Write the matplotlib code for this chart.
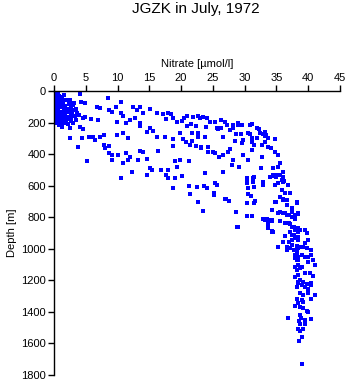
import matplotlib
matplotlib.use("Agg")
import matplotlib.pyplot as plt

plt.rcParams['font.family'] = ['Liberation Sans', 'DejaVu Sans']

# surface layer, 0-250 m
surface_no3 = [0.1, 0.3, 0.6, 0.2, 0.5, 0.8, 0.1, 0.4, 0.7, 0.2, 0.5, 0.9, 0.1, 0.3, 0.6, 1.0,
               0.2, 0.4, 0.8, 0.1, 0.5, 0.3, 0.7, 0.2, 0.6, 0.9, 0.1, 0.4, 0.2, 0.5, 0.1, 0.3,
               0.6, 0.2, 0.4, 0.8, 1.2, 1.6, 1.5, 2.0, 2.5, 1.3, 1.8, 2.3, 2.8, 3.2, 1.5, 2.0,
               2.6, 3.0, 3.5, 1.2, 1.8, 2.4, 2.9, 3.6, 1.5, 2.1, 2.7, 3.3, 1.3, 1.9, 2.6, 3.4,
               1.5, 2.2, 3.0, 4.1, 4.2, 4.9, 4.0, 4.5, 4.1, 4.6, 2.5, 3.8, 2.5, 5.2, 4.4,
               0.0, 0.3, 0.1, 0.4, 0.0, 0.2, 0.5, 0.1, 0.3, 0.0, 0.4, 0.2, 0.6, 0.0, 0.3, 0.1,
               0.5, 0.2, 0.0, 0.4, 0.7, 0.1, 0.3, 1.1, 1.0, 0.9, 1.4, 1.7, 2.2, 2.6, 3.0, 1.1,
               1.6, 2.0, 0.9, 1.2]
surface_depth = [5, 10, 8, 20, 25, 30, 35, 40, 45, 50, 55, 60, 65, 70, 75, 80,
                 85, 90, 95, 100, 105, 110, 115, 120, 125, 130, 135, 140, 150, 155, 165, 175,
                 185, 195, 205, 215, 40, 25, 60, 55, 57, 90, 95, 85, 80, 75, 110, 115,
                 105, 120, 115, 130, 140, 135, 145, 140, 160, 165, 170, 160, 180, 185, 190, 185,
                 205, 210, 200, 21, 68, 77, 150, 170, 226, 240, 237, 353, 300, 444, 296,
                 2, 3, 15, 15, 28, 32, 38, 52, 58, 62, 68, 78, 88, 92, 98, 112,
                 118, 128, 140, 148, 158, 170, 190, 100, 140, 160, 70, 120, 125, 150, 90, 170,
                 195, 180, 200, 225]

# shallow branch
upper_no3 = [8.5, 10.6, 6.7, 7.2, 8.7, 9.7, 9.2, 10.6, 10.9, 12.5, 13.5, 13.0, 15.1, 14.0, 16.2,
             17.2, 18.0, 12.7, 13.5, 13.5, 11.9, 11.4, 9.9, 7.0, 5.8, 4.8, 15.1, 15.6, 14.6,
             18.4, 17.7, 18.8, 19.3, 20.2, 20.5, 21.0, 21.8, 22.7, 23.0, 23.5, 24.0, 24.5,
             25.4, 26.3, 26.9, 27.2, 28.2, 28.9, 28.9, 29.6, 30.8, 31.1, 31.9, 32.2, 33.2,
             20.9, 21.6, 22.3, 23.9, 25.6, 25.8, 26.3, 27.7, 28.2, 28.7, 29.5, 30.6, 30.8,
             31.2, 31.9, 32.4, 32.9, 33.2, 33.7, 33.4, 34.8]
upper_depth = [46, 72, 99, 105, 120, 99, 130, 141, 160, 99, 99, 120, 114, 140, 141,
               148, 141, 173, 205, 220, 184, 205, 194, 184, 179, 165, 232, 253, 258,
               146, 177, 170, 199, 192, 169, 158, 165, 158, 172, 165, 172, 194,
               194, 184, 194, 215, 215, 200, 215, 218, 215, 208, 237, 240, 258,
               222, 212, 220, 226, 237, 243, 233, 247, 237, 275, 275, 268, 275,
               296, 296, 268, 275, 285, 296, 280, 304]

# middle branch
middle_no3 = [9.9, 10.8, 11.7, 7.8, 7.2, 6.2, 5.5, 6.5, 7.8, 8.1, 8.6, 8.7, 9.2, 10.0, 11.3,
              12.0, 11.7, 10.9, 9.1, 13.5, 14.0, 14.6, 13.2, 16.4, 17.5, 16.2, 18.8, 18.8,
              19.8, 20.3, 20.8, 21.7, 22.7, 22.6, 21.7, 23.8, 26.6, 28.5, 29.6, 29.8, 31.1,
              31.4, 32.7, 33.2, 33.7, 34.2, 34.8, 35.3, 35.6, 35.3, 34.5, 34.5, 35.0, 36.1,
              35.8, 36.1, 36.1, 21.4, 22.4, 23.1, 23.2, 24.3, 27.7, 27.4, 26.6, 25.3, 25.0,
              24.3, 25.9, 28.2, 28.0, 29.1, 29.8, 30.6, 31.1, 32.7, 32.6, 19.0, 19.8, 21.3,
              19.3, 18.0, 15.1, 15.4, 16.8, 17.7, 14.6, 12.2, 10.5, 20.2, 19.0, 18.0, 23.8,
              26.6, 30.3, 31.3, 31.3, 25.3, 30.3, 32.9]
middle_depth = [279, 265, 300, 279, 294, 290, 290, 312, 342, 360, 350, 395, 405, 408, 395,
                416, 437, 458, 437, 380, 384, 431, 437, 380, 290, 290, 304, 346,
                268, 304, 325, 268, 268, 290, 317, 290, 290, 317, 327, 310, 321,
                342, 340, 321, 353, 363, 385, 405, 458, 479, 490, 532, 543, 511,
                564, 543, 574, 342, 346, 353, 363, 357, 368, 384, 405, 395, 384,
                384, 416, 437, 469, 479, 405, 437, 374, 416, 490, 444, 437, 441,
                479, 500, 490, 503, 500, 532, 532, 511, 553, 537, 553, 553, 522,
                515, 553, 553, 574, 581, 585, 574]

# deeper branch
lower_no3 = [18.8, 21.2, 21.4, 22.5, 23.6, 24.1, 25.3, 25.6, 25.2, 25.1, 22.7, 23.5, 27.1,
             27.6, 28.7, 28.8, 30.3, 30.3, 31.2, 31.6, 31.5, 30.6, 31.0, 30.5, 31.5, 32.9,
             32.9, 33.4, 34.3, 33.6, 34.3, 35.2, 26.9, 27.5, 30.3, 31.4]
lower_depth = [617, 602, 655, 608, 602, 617, 581, 596, 648, 660, 705, 760, 686,
               697, 764, 864, 708, 792, 792, 695, 712, 653, 667, 617, 610, 596,
               813, 813, 822, 835, 892, 991, 686, 700, 560, 547]

# deep water column
deep_no3 = [34.0, 34.5, 35.0, 35.6, 34.8, 35.3, 36.2, 36.8, 35.8, 36.3, 37.1, 35.6, 35.0,
            36.1, 36.6, 37.4, 38.2, 35.3, 36.1, 36.6, 37.4, 37.9, 38.4, 36.3, 36.9, 37.4,
            37.1, 37.9, 38.4, 37.7, 38.2, 37.4, 38.4, 37.1, 37.9, 38.2, 38.7, 35.3, 36.6,
            37.9, 38.4, 38.2, 37.9, 38.4, 38.7, 33.2, 34.2, 33.7, 28.7, 28.9, 34.5, 35.2,
            34.8, 35.6, 36.1, 36.6, 38.2, 34.3, 35.6, 36.3, 36.9, 37.4, 38.4, 33.5, 34.3,
            35.6, 36.3, 37.1, 37.9, 33.7, 34.3, 36.6, 37.7, 38.2, 38.4, 38.7, 39.5, 39.8,
            37.4, 37.9, 38.4, 36.3, 36.1, 36.9, 40.0, 39.5, 35.3, 36.6, 37.4, 38.2, 38.4,
            39.2, 39.8, 40.5, 36.6, 37.7, 38.2, 39.0, 39.5, 40.0, 40.5, 37.9, 38.4, 38.4,
            40.0, 40.8, 41.1, 39.0, 38.2, 38.4, 39.5, 40.3, 40.8, 37.9, 38.7, 39.2, 38.4,
            39.8, 40.5, 38.4, 39.0, 38.2, 39.5, 40.5, 40.0, 38.7, 39.2, 41.1, 40.0, 38.3,
            39.0, 39.2, 40.5, 38.4, 37.9, 38.7, 39.2, 39.8, 40.0, 36.8, 38.7, 38.9, 38.5,
            39.5, 40.5, 38.7, 39.5, 38.4, 39.2, 38.7, 39.0, 38.6, 39.0]
deep_depth = [547, 539, 532, 532, 596, 585, 568, 596, 627, 648, 645, 670, 701,
              691, 723, 743, 708, 775, 771, 786, 797, 786, 775, 835, 835, 860,
              892, 881, 870, 913, 923, 944, 944, 997, 1008, 1018, 991, 991, 987,
              1039, 1050, 1071, 1113, 1103, 1124, 818, 818, 860, 764, 864, 892, 991,
              701, 670, 685, 691, 705, 754, 765, 775, 786, 765, 782, 811, 818,
              824, 839, 845, 811, 866, 887, 839, 860, 870, 892, 881, 881, 902,
              913, 934, 923, 917, 955, 959, 944, 965, 991, 987, 976, 980, 997,
              987, 997, 1008, 1008, 1008, 1039, 1039, 1050, 1050, 1039, 1060, 1071, 1103,
              1082, 1071, 1103, 1113, 1134, 1166, 1155, 1155, 1172, 1177, 1198, 1208, 1219,
              1225, 1219, 1208, 1230, 1240, 1240, 1230, 1257, 1278, 1293, 1293, 1282, 1320,
              1325, 1335, 1320, 1346, 1363, 1371, 1377, 1392, 1399, 1441, 1420, 1441, 1456,
              1452, 1447, 1477, 1477, 1511, 1511, 1520, 1557, 1582, 1732]

fig = plt.figure(figsize=(3.48, 3.84), dpi=100)
ax = fig.add_axes([54 / 348, 1 - 375 / 384, 286 / 348, 284 / 384])

groups = [(surface_no3, surface_depth), (upper_no3, upper_depth), (middle_no3, middle_depth),
          (lower_no3, lower_depth), (deep_no3, deep_depth)]
for xs, ys in groups:
    ax.plot(xs, ys, linestyle='none', marker='s', markersize=2.6,
            color='#0000ff', markeredgewidth=0)

ax.set_xlim(0, 45)
ax.set_ylim(1800, 0)
ax.set_xticks(range(0, 46, 5))
ax.set_yticks(range(0, 1801, 200))
ax.xaxis.tick_top()
ax.xaxis.set_label_position('top')
ax.spines['right'].set_visible(False)
ax.spines['bottom'].set_visible(False)
for s in ('left', 'top'):
    ax.spines[s].set_linewidth(1.0)
ax.tick_params(axis='both', direction='out', length=4, width=1.0, labelsize=8, pad=2)
ax.set_xlabel('Nitrate [\u00b5mol/l]', fontsize=8, labelpad=4)
ax.set_ylabel('Depth [m]', fontsize=8, labelpad=3)

fig.text(196 / 348, 1 - 9 / 384, 'JGZK in July, 1972', ha='center', va='center', fontsize=11)

fig.savefig('out.png', dpi=100)
